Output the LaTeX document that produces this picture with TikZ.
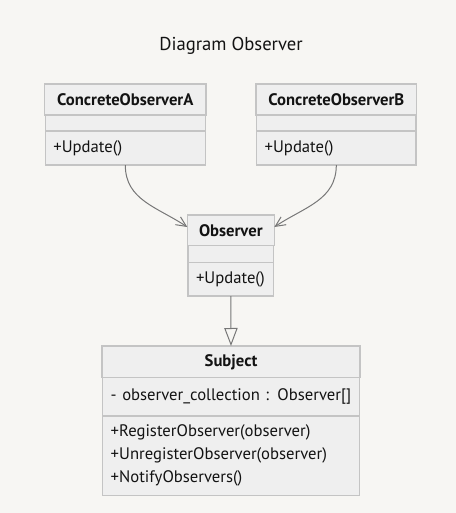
\documentclass[tikz,border=0pt]{standalone}
\usepackage{fontspec}
\setmainfont{PT Sans}
\usetikzlibrary{positioning,arrows.meta}

\definecolor{bgcol}{HTML}{F7F6F3}
\definecolor{boxfill}{HTML}{EFEFEF}
\definecolor{boxline}{HTML}{C4C4C4}
\definecolor{edgecol}{HTML}{777777}
\definecolor{txtcol}{HTML}{131313}

\tikzset{
  classhead/.style={draw=boxline, fill=boxfill, line width=1.1pt, text=txtcol, outer sep=0pt,
    font=\fontsize{12.5}{15}\selectfont\bfseries, minimum height=23.3pt, inner sep=0pt},
  classpart/.style={draw=boxline, fill=boxfill, line width=1.1pt, text=txtcol, outer sep=0pt,
    font=\fontsize{12.5}{17.25}\selectfont, align=left, inner xsep=6pt, inner ysep=0pt},
  edge/.style={draw=edgecol, line width=0.75pt}
}

\begin{document}
\begin{tikzpicture}[x=0.75pt, y=-0.75pt]
\fill [bgcol] (0,0) rectangle (456,513);
\useasboundingbox (0,0) rectangle (456,513);

\node (title) [text=txtcol, font=\fontsize{14}{16}\selectfont] at (231,46) {Diagram Observer};

% ConcreteObserverA
\node (a-head) [classhead, minimum width=121pt, anchor=north] at (125.3,84) {ConcreteObserverA};
\node (a-attr) [classpart, text width=107.9pt, minimum height=12pt, below=0pt of a-head] {};
\node (a-meth) [classpart, text width=107.9pt, minimum height=25.5pt, below=0pt of a-attr] {+Update()};

% ConcreteObserverB
\node (b-head) [classhead, minimum width=120.5pt, anchor=north] at (336.3,84) {ConcreteObserverB};
\node (b-attr) [classpart, text width=107.4pt, minimum height=12pt, below=0pt of b-head] {};
\node (b-meth) [classpart, text width=107.4pt, minimum height=25.5pt, below=0pt of b-attr] {+Update()};

% Observer
\node (obs-head) [classhead, minimum width=65.3pt, minimum height=23pt, anchor=north] at (230.8,215) {Observer};
\node (obs-attr) [classpart, text width=52.2pt, minimum height=12.5pt, below=0pt of obs-head] {};
\node (obs-meth) [classpart, text width=52.2pt, minimum height=25.3pt, below=0pt of obs-attr] {+Update()};

% Subject
\node (subj-head) [classhead, minimum width=193.5pt, minimum height=23.8pt, anchor=north] at (231,346) {Subject};
\node (subj-attr) [classpart, text width=180.4pt, minimum height=28.7pt, below=0pt of subj-head] {\mbox{- observer\_collection : Observer[]}};
\node (subj-meth) [classpart, text width=180.4pt, minimum height=59.8pt, below=0pt of subj-attr]
  {+RegisterObserver(observer)\\+UnregisterObserver(observer)\\+NotifyObservers()};

% connectors
\draw [edge, -{Straight Barb[length=7.5pt, width=7pt]}] (a-meth.south)
  .. controls +(0,35) and +(-30,-20) .. ([yshift=2.5pt]obs-head.west);
\draw [edge, -{Straight Barb[length=7.5pt, width=7pt]}] (b-meth.south)
  .. controls +(0,35) and +(30,-20) .. ([yshift=2.5pt]obs-head.east);
\draw [edge, -{Triangle[open, length=13.5pt, width=10pt]}] (obs-meth.south) -- (subj-head.north);
\end{tikzpicture}
\end{document}
